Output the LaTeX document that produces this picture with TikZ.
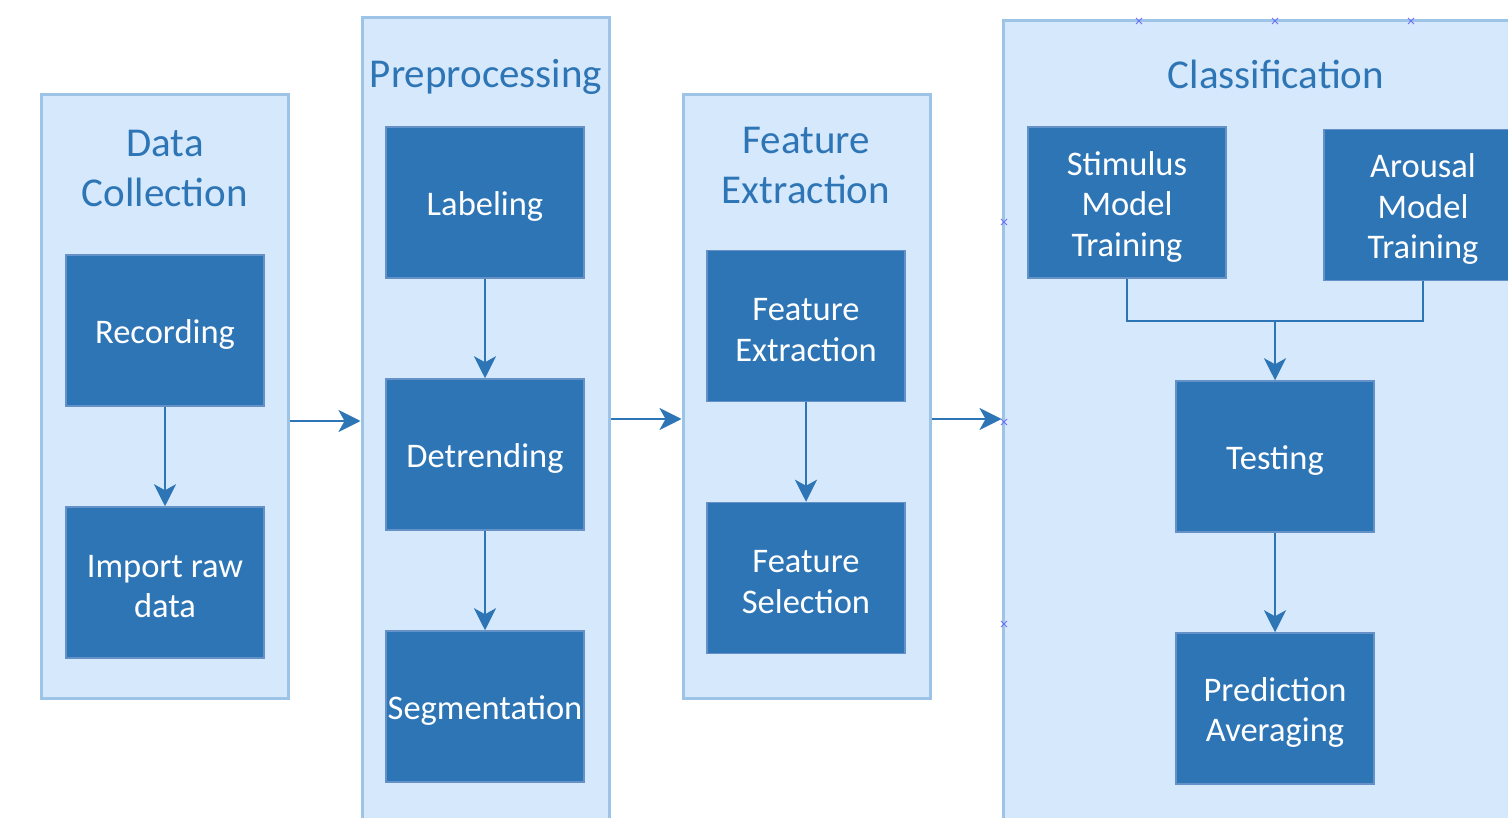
\documentclass[tikz,border=0pt]{standalone}
\usepackage{fontspec}
\setmainfont{Carlito}
\usetikzlibrary{arrows.meta}
\definecolor{contfill}{RGB}{213,232,252}
\definecolor{contline}{RGB}{157,195,230}
\definecolor{boxfill}{RGB}{46,117,182}
\definecolor{boxline}{RGB}{100,145,200}
\definecolor{arrcol}{RGB}{46,117,182}
\definecolor{titlecol}{RGB}{46,117,182}
\definecolor{markcol}{RGB}{110,110,255}
\tikzset{
  container/.style={draw=contline, fill=contfill, line width=3pt, inner sep=0pt},
  stepbox/.style={draw=boxline, fill=boxfill, line width=1.5pt, minimum width=198pt, minimum height=151pt, inner sep=0pt},
  steptext/.style={text=white, align=center, inner sep=0pt, font=\fontsize{34.5}{40.5}\selectfont},
  ttl/.style={text=titlecol, align=center, font=\fontsize{41}{50}\selectfont, inner sep=0pt},
  arr/.style={draw=arrcol, line width=2.5pt, -{Stealth[length=22pt,width=22pt,inset=6pt]}},
  conn/.style={draw=arrcol, line width=2.5pt},
  xmark/.style={draw=markcol, line width=0.8pt}
}
\newcommand\stepnode[3]{%
  \node[stepbox] (#1) at (#2) {};
  \node[steptext] (#1t) at ([yshift=-4pt]#1.center) {#3};}
\begin{document}
\begin{tikzpicture}[x=1pt,y=-1pt]
\useasboundingbox (0,0) rectangle (1508,818);
\clip (0,0) rectangle (1508,818);
\fill[white] (0,0) rectangle (1508,818);
% containers
\node[container, minimum width=247pt, minimum height=603pt] (dc) at (164.5,396.5) {};
\node[container, minimum width=247pt, minimum height=820pt] (pre) at (485.5,428) {};
\node[container, minimum width=247pt, minimum height=603pt] (fec) at (806.5,396.5) {};
\node[container, minimum width=527pt, minimum height=820pt] (cls) at (1266.5,431) {};
% titles
\node[ttl] (tdc) at (165,168) {Data\\Collection};
\node[ttl] (tpre) at (486,77) {Preprocessing};
\node[ttl] (tfe) at (806,165) {Feature\\Extraction};
\node[ttl] (tcls) at (1276,74) {Classification};
% boxes
\stepnode{rec}{165,330.5}{Recording}
\stepnode{imp}{165,582.5}{Import raw\\data}
\stepnode{lab}{485,202.5}{Labeling}
\stepnode{det}{485,454.5}{Detrending}
\stepnode{seg}{485,706.5}{Segmentation}
\stepnode{fex}{806,326}{Feature\\Extraction}
\stepnode{fsel}{806,578}{Feature\\Selection}
\stepnode{stim}{1127,202.5}{Stimulus\\Model\\Training}
\stepnode{aro}{1423,205}{Arousal\\Model\\Training}
\stepnode{test}{1275,456.5}{Testing}
\stepnode{pred}{1275,708.5}{Prediction\\Averaging}
% arrows inside
\draw[arr] (rec.south) -- (imp.north);
\draw[arr] (lab.south) -- (det.north);
\draw[arr] (det.south) -- (seg.north);
\draw[arr] (fex.south) -- (fsel.north);
\coordinate (j) at (1275,321);
\draw[conn] (stim.south) |- (j) -| (aro.south);
\draw[arr] (j) -- (test.north);
\draw[arr] (test.south) -- (pred.north);
% arrows between containers
\coordinate (y1) at (0,421);
\coordinate (y2) at (0,419);
\draw[arr] (dc.east |- y1) -- (pre.west |- y1);
\draw[arr] (pre.east |- y2) -- (fec.west |- y2);
\draw[arr] (fec.east |- y2) -- (cls.west |- y2);
% small editor marks
\foreach \mx/\my in {1139/21,1275/21,1411/21,1004/222,1004/422,1004/624}
  \draw[xmark] (\mx-3,\my-3) -- (\mx+3,\my+3) (\mx-3,\my+3) -- (\mx+3,\my-3);
\end{tikzpicture}
\end{document}
